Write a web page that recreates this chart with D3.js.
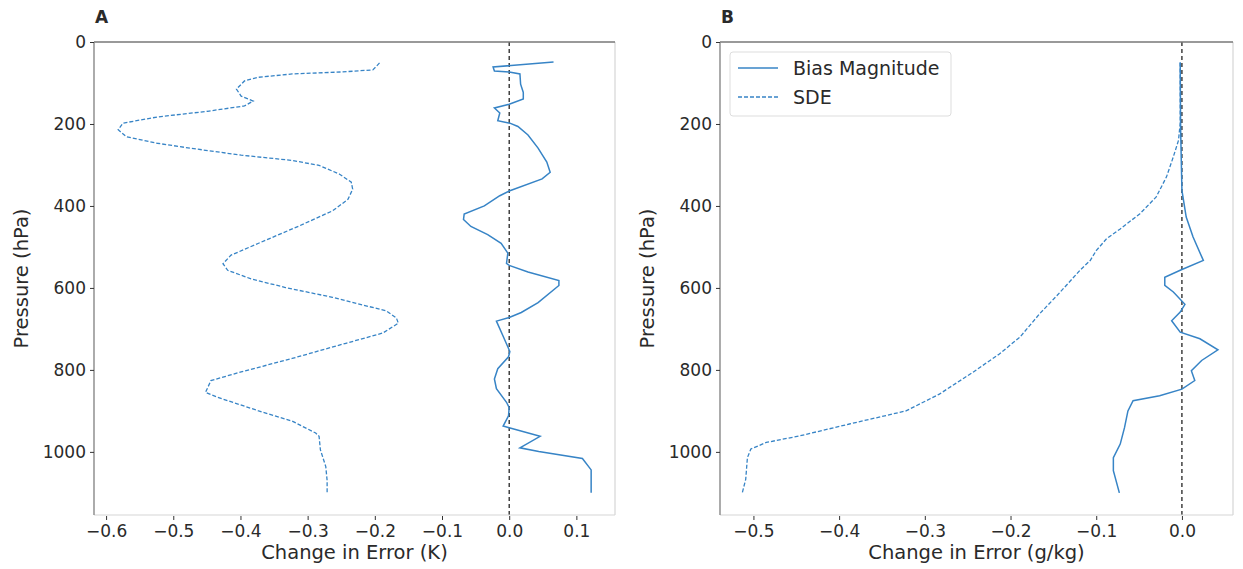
<!DOCTYPE html>
<html>
<head>
<meta charset="utf-8">
<script src="https://cdn.jsdelivr.net/npm/d3@7"></script>
<style>
  body { margin: 0; background: #fff; }
  text { font-family: "DejaVu Sans", sans-serif; fill: #2a2a2a; }
</style>
</head>
<body>
<svg id="chart" width="1243" height="569"></svg>
<script>
// Panel A: temperature (K). Pressure levels (hPa) and change in error.
const aBiasP = [49, 61, 71, 73, 78, 103, 123, 139, 152, 161, 173, 192, 198, 206, 227, 259, 293, 318, 334, 363, 375, 400, 420, 433, 450, 470, 491, 515, 540, 545, 561, 582, 594, 636, 660, 672, 681, 718, 755, 768, 797, 822, 846, 879, 892, 912, 937, 941, 962, 990, 999, 1016, 1044, 1100];
const aBiasV = [0.066, -0.024, -0.022, 0, 0.016, 0.017, 0.021, 0.021, 0, -0.022, -0.014, -0.017, 0.001, 0.013, 0.028, 0.043, 0.056, 0.061, 0.049, 0.001, -0.014, -0.037, -0.067, -0.068, -0.057, -0.032, -0.012, -0.002, -0.004, 0, 0.028, 0.074, 0.074, 0.043, 0.018, 0, -0.019, -0.009, 0.001, -0.001, -0.017, -0.022, -0.019, -0.004, 0, -0.001, -0.009, 0, 0.046, 0.016, 0.044, 0.109, 0.122, 0.122];
const aSdeP = [51, 60, 68, 73, 78, 86, 95, 115, 132, 144, 156, 169, 183, 198, 214, 231, 247, 259, 276, 289, 301, 322, 342, 359, 384, 412, 449, 491, 520, 541, 557, 578, 599, 623, 656, 673, 686, 710, 735, 772, 805, 826, 855, 867, 900, 925, 954, 962, 995, 1036, 1070, 1100];
const aSdeV = [-0.193, -0.198, -0.203, -0.248, -0.323, -0.373, -0.394, -0.406, -0.399, -0.381, -0.394, -0.449, -0.524, -0.575, -0.582, -0.57, -0.524, -0.475, -0.399, -0.323, -0.283, -0.253, -0.235, -0.233, -0.24, -0.263, -0.313, -0.373, -0.414, -0.426, -0.419, -0.384, -0.333, -0.263, -0.183, -0.168, -0.165, -0.188, -0.243, -0.323, -0.399, -0.444, -0.452, -0.434, -0.373, -0.323, -0.288, -0.283, -0.281, -0.273, -0.271, -0.271];

// Panel B: humidity (g/kg).
const bBiasP = [50, 215, 362, 427, 476, 533, 557, 574, 594, 610, 640, 659, 680, 708, 724, 751, 777, 802, 826, 847, 863, 875, 900, 941, 981, 1014, 1046, 1100];
const bBiasV = [-0.002, -0.0015, 0, 0.005, 0.013, 0.025, -0.002, -0.02, -0.02, -0.01, 0.0035, -0.002, -0.012, -0.002, 0.021, 0.042, 0.023, 0.011, 0.015, 0, -0.026, -0.057, -0.063, -0.067, -0.072, -0.08, -0.08, -0.073];
const bSdeP = [50, 198, 240, 280, 329, 378, 419, 456, 480, 509, 533, 557, 594, 619, 663, 720, 761, 806, 859, 900, 932, 961, 977, 993, 1014, 1067, 1100];
const bSdeV = [-0.002, -0.002, -0.004, -0.01, -0.018, -0.03, -0.049, -0.072, -0.088, -0.1, -0.107, -0.119, -0.135, -0.146, -0.166, -0.189, -0.213, -0.244, -0.283, -0.322, -0.388, -0.446, -0.485, -0.503, -0.507, -0.509, -0.513];

const yTicks = [0, 200, 400, 600, 800, 1000];
const aXTicks = [-0.6, -0.5, -0.4, -0.3, -0.2, -0.1, 0.0, 0.1];
const bXTicks = [-0.5, -0.4, -0.3, -0.2, -0.1, 0.0];
const legendLabels = ["Bias Magnitude", "SDE"];

const lineColor = "#3784c6";
const svg = d3.select("#chart");
const fmt = v => d3.format(".1f")(v).replace("-", "\u2212");

function drawPanel(opt) {
    const x = d3.scaleLinear().domain(opt.xDomain).range([opt.left, opt.right]);
    const y = d3.scaleLinear().domain([0, 1154]).range([42, 515]);
    const g = svg.append("g");

    // dashed zero line
    g.append("line")
        .attr("x1", x(0)).attr("x2", x(0))
        .attr("y1", y.range()[0]).attr("y2", y.range()[1])
        .attr("stroke", "#111").attr("stroke-width", 1.2)
        .attr("stroke-dasharray", "4,3");

    const line = d3.line().x(d => x(d[1])).y(d => y(d[0]));
    g.append("path")
        .datum(d3.zip(opt.sdeP, opt.sdeV))
        .attr("d", line)
        .attr("fill", "none").attr("stroke", lineColor)
        .attr("stroke-width", 1.3).attr("stroke-dasharray", "4,2");
    g.append("path")
        .datum(d3.zip(opt.biasP, opt.biasV))
        .attr("d", line)
        .attr("fill", "none").attr("stroke", lineColor)
        .attr("stroke-width", 1.5);

    // spines: left/top darker in the source image
    const [x0, x1] = x.range(), [y0, y1] = y.range();
    g.append("line").attr("x1", x0).attr("x2", x1).attr("y1", y1).attr("y2", y1)
        .attr("stroke", "#d6d6d6").attr("stroke-width", 1.2);
    g.append("line").attr("x1", x1).attr("x2", x1).attr("y1", y0).attr("y2", y1)
        .attr("stroke", "#d6d6d6").attr("stroke-width", 1.2);
    g.append("line").attr("x1", x0).attr("x2", x1).attr("y1", y0).attr("y2", y0)
        .attr("stroke", "#777").attr("stroke-width", 1.4);
    g.append("line").attr("x1", x0).attr("x2", x0).attr("y1", y0).attr("y2", y1)
        .attr("stroke", "#888").attr("stroke-width", 1.4);

    // axes
    const xAxis = d3.axisBottom(x).tickValues(opt.xTicks).tickFormat(fmt).tickSize(4).tickPadding(5);
    const gx = g.append("g").attr("transform", `translate(0,${y1 + 1})`).call(xAxis);
    const yAxis = d3.axisLeft(y).tickValues(yTicks).tickFormat(d3.format("d")).tickSize(4).tickPadding(4);
    const gy = g.append("g").attr("transform", `translate(${x0},0)`).call(yAxis);
    [gx, gy].forEach(a => {
        a.select(".domain").remove();
        a.selectAll(".tick line").attr("stroke", "#333");
        a.selectAll(".tick text").attr("font-size", 17).attr("fill", "#2a2a2a")
            .style("font-family", "DejaVu Sans, sans-serif");
    });

    g.append("text")
        .attr("x", (x0 + x1) / 2).attr("y", 559)
        .attr("text-anchor", "middle").attr("font-size", 19.5)
        .text(opt.xLabel);
    g.append("text")
        .attr("transform", `translate(${x0 - 66},${(y0 + y1) / 2}) rotate(-90)`)
        .attr("text-anchor", "middle").attr("font-size", 19.5)
        .text("Pressure (hPa)");
    g.append("text")
        .attr("x", x0 + 1).attr("y", 23)
        .attr("font-size", 17).attr("font-weight", "bold")
        .text(opt.title);

    if (opt.legend) {
        const lg = g.append("g").attr("transform", `translate(${x0 + 10},52)`);
        lg.append("rect").attr("width", 221).attr("height", 64).attr("rx", 3)
            .attr("fill", "#fff").attr("stroke", "#ddd");
        legendLabels.forEach((lab, i) => {
            const ly = 16 + i * 29;
            lg.append("line").attr("x1", 8).attr("x2", 48).attr("y1", ly).attr("y2", ly)
                .attr("stroke", lineColor).attr("stroke-width", i === 0 ? 1.5 : 1.3)
                .attr("stroke-dasharray", i === 0 ? null : "4,2");
            lg.append("text").attr("x", 63).attr("y", ly + 7)
                .attr("font-size", 19).text(lab);
        });
    }
}

drawPanel({
    left: 94, right: 615, xDomain: [-0.618, 0.1575], xTicks: aXTicks,
    biasP: aBiasP, biasV: aBiasV, sdeP: aSdeP, sdeV: aSdeV,
    xLabel: "Change in Error (K)", title: "A", legend: false
});
drawPanel({
    left: 720, right: 1233, xDomain: [-0.539, 0.0596], xTicks: bXTicks,
    biasP: bBiasP, biasV: bBiasV, sdeP: bSdeP, sdeV: bSdeV,
    xLabel: "Change in Error (g/kg)", title: "B", legend: true
});
</script>
</body>
</html>
